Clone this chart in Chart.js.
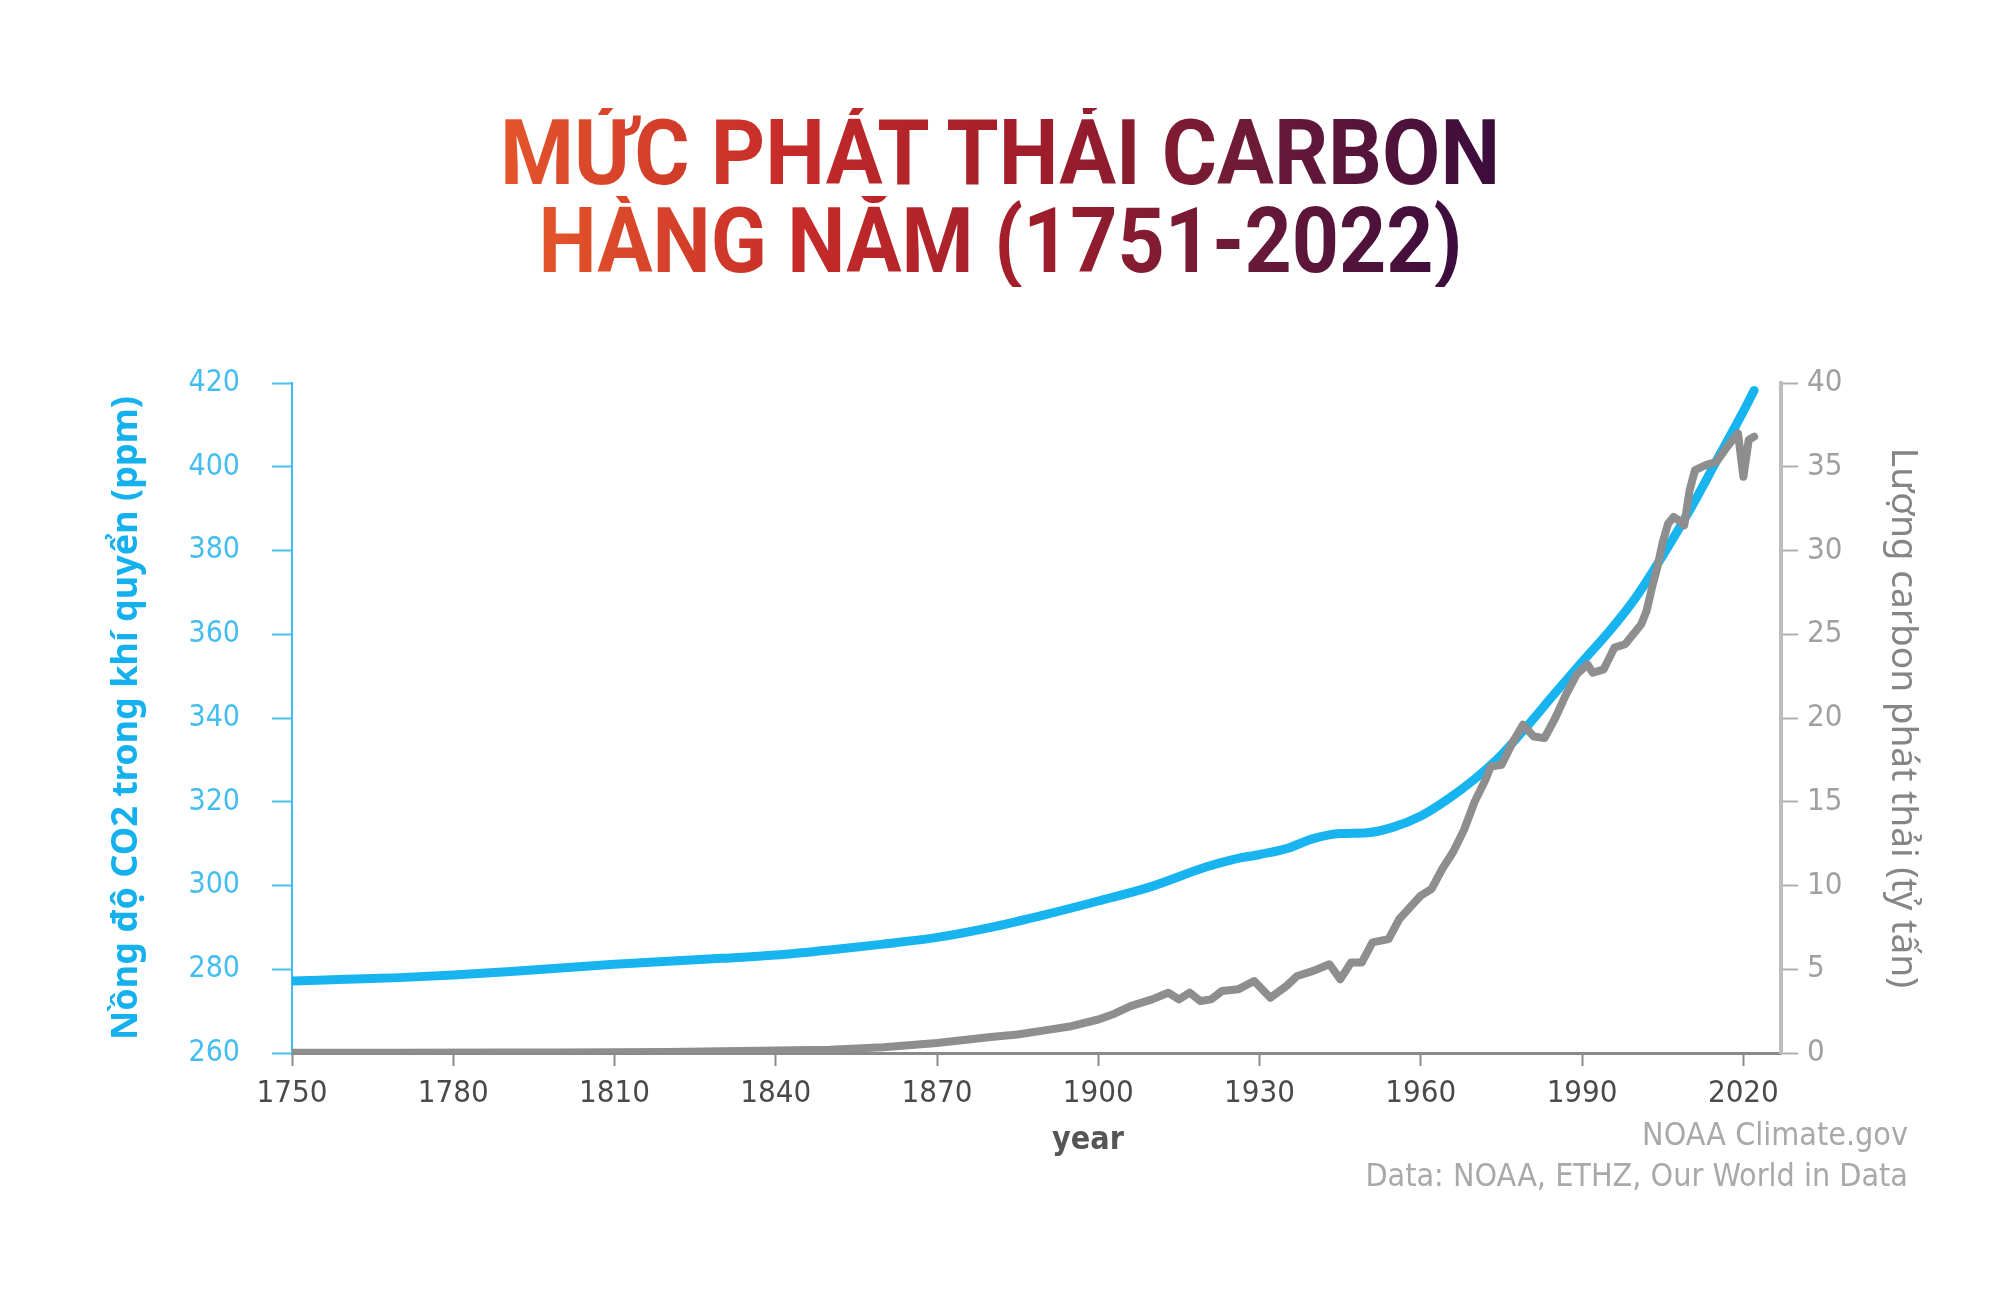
<!DOCTYPE html>
<html lang="vi">
<head>
<meta charset="utf-8">
<title>Mức phát thải carbon hàng năm (1751-2022)</title>
<script src="https://cdn.jsdelivr.net/npm/chart.js@4.4.1/dist/chart.umd.min.js"></script>
<style>
  html, body { margin: 0; padding: 0; background: #fff; }
  body { width: 2000px; height: 1316px; position: relative; overflow: hidden; }
  #chart { position: absolute; left: 0; top: 0; }
  .title-row { position: absolute; left: 0; width: 2000px; text-align: center; }
  .title-row span {
    display: inline-block;
    font-family: Roboto, 'Noto Sans', sans-serif;
    font-weight: 700;
    font-size: 91px;
    line-height: 1;
    white-space: nowrap;
    color: transparent;
    background: linear-gradient(90deg, #e4552b 0%, #c42a29 30%, #9c1d2b 55%, #6b1a38 76%, #3a0c3d 100%);
    -webkit-background-clip: text;
    background-clip: text;
    transform-origin: center;
  }
  .credit {
    position: absolute; right: 92px;
    font-family: 'DejaVu Sans Condensed', 'DejaVu Sans', sans-serif;
    font-size: 32px; line-height: 36px; color: #a9a9a9; white-space: nowrap;
  }
  #xlabel {
    position: absolute; left: 988px; width: 200px; top: 1118px; text-align: center;
    font-family: 'DejaVu Sans Condensed', sans-serif; font-weight: bold;
    font-size: 32px; line-height: 40px; color: #555;
  }
</style>
</head>
<body>
<div class="title-row" style="top:108px"><span id="t1">MỨC PHÁT THẢI CARBON</span></div>
<div class="title-row" style="top:196px"><span id="t2">HÀNG NĂM (1751-2022)</span></div>
<canvas id="chart" width="2000" height="1316"></canvas>
<div id="xlabel">year</div>
<div class="credit" style="top:1116px">NOAA Climate.gov</div>
<div class="credit" style="top:1157px">Data: NOAA, ETHZ, Our World in Data</div>
<script>
// nồng độ CO2 (ppm)
const co2Years = [1750, 1760, 1770, 1780, 1790, 1800, 1810, 1820, 1830, 1840, 1850, 1860, 1870, 1880, 1890,
  1900, 1910, 1920, 1925, 1930, 1935, 1940, 1945, 1950, 1955, 1960, 1965, 1970, 1975, 1980, 1985, 1990,
  1995, 2000, 2005, 2010, 2015, 2020, 2022];
const co2Ppm = [277.2, 277.6, 278.0, 278.6, 279.4, 280.3, 281.2, 281.9, 282.6, 283.4, 284.6, 286.0, 287.6, 290.0, 293.0,
  296.3, 299.8, 304.4, 306.2, 307.4, 308.8, 311.2, 312.4, 312.6, 314.0, 316.6, 320.6, 325.4, 331.2, 338.4, 346.0, 353.4,
  360.6, 368.8, 378.8, 389.6, 401.4, 413.2, 418.2];

// lượng phát thải (tỷ tấn)
const emisYears = [1750, 1770, 1790, 1800, 1810, 1820, 1830, 1840, 1850, 1860, 1870, 1880, 1885, 1890, 1895,
  1900, 1903, 1906, 1910, 1913, 1915, 1917, 1919, 1921, 1923, 1926, 1929, 1932, 1935, 1937, 1940, 1943, 1945,
  1947, 1949, 1951, 1954, 1956, 1958, 1960, 1962, 1964, 1966, 1968, 1970, 1972, 1973, 1975, 1977, 1979, 1981,
  1983, 1985, 1987, 1989, 1991, 1992, 1994, 1996, 1998, 2000, 2001, 2002, 2003, 2004, 2005, 2006, 2007, 2008,
  2009, 2010, 2011, 2013, 2015, 2017, 2019, 2020, 2021, 2022];
const emisGt = [0.01, 0.02, 0.03, 0.03, 0.05, 0.06, 0.1, 0.15, 0.2, 0.35, 0.6, 0.95, 1.1, 1.35, 1.6,
  2.0, 2.35, 2.8, 3.2, 3.6, 3.2, 3.6, 3.1, 3.2, 3.7, 3.8, 4.3, 3.3, 4.0, 4.6, 4.9, 5.3, 4.4,
  5.4, 5.4, 6.6, 6.8, 8.0, 8.7, 9.4, 9.8, 11.0, 12.0, 13.3, 15.0, 16.3, 17.1, 17.2, 18.5, 19.6, 18.9,
  18.8, 20.0, 21.4, 22.6, 23.2, 22.7, 22.9, 24.2, 24.4, 25.2, 25.6, 26.4, 27.8, 29.0, 30.5, 31.6, 32.0, 31.8,
  31.5, 33.6, 34.8, 35.1, 35.3, 36.2, 37.0, 34.4, 36.6, 36.8];

const xTicks = [1750, 1780, 1810, 1840, 1870, 1900, 1930, 1960, 1990, 2020];
const co2Ticks = [260, 280, 300, 320, 340, 360, 380, 400, 420];
const emisTicks = [0, 5, 10, 15, 20, 25, 30, 35, 40];

const narrow = "'Liberation Sans Narrow', 'DejaVu Sans Condensed', sans-serif";

// co chữ tiêu đề cho vừa bề ngang
function fitTitle(id, target) {
    const el = document.getElementById(id);
    const w = el.getBoundingClientRect().width;
    el.style.transform = 'scaleX(' + (target / w) + ')';
}
fitTitle('t1', 1000);
fitTitle('t2', 924);

const toPoints = (xs, ys) => xs.map((x, i) => ({ x, y: ys[i] }));
const setTicks = list => scale => { scale.ticks = list.map(v => ({ value: v })); };

new Chart(document.getElementById('chart'), {
    type: 'line',
    data: {
        datasets: [{
            label: 'Lượng carbon phát thải',
            data: toPoints(emisYears, emisGt),
            yAxisID: 'y1',
            borderColor: '#8e8e8e',
            borderWidth: 8,
            borderJoinStyle: 'round',
            borderCapStyle: 'round',
            tension: 0,
            order: 0
        }, {
            label: 'Nồng độ CO2',
            data: toPoints(co2Years, co2Ppm),
            yAxisID: 'y',
            borderColor: '#17b4f0',
            borderWidth: 9,
            borderCapStyle: 'round',
            cubicInterpolationMode: 'monotone',
            order: 1
        }]
    },
    options: {
        responsive: false,
        animation: false,
        layout: { padding: { top: 383, left: 0, right: 0, bottom: 143 } },
        elements: { point: { radius: 0 } },
        plugins: { legend: { display: false }, tooltip: { enabled: false } },
        scales: {
            x: {
                type: 'linear',
                min: 1750,
                max: 2027,
                afterBuildTicks: setTicks(xTicks),
                afterFit: s => { s.height = 120; },
                grid: { drawOnChartArea: false, tickLength: 13, tickWidth: 2, tickColor: '#8a8a8a' },
                border: { color: '#8a8a8a', width: 3 },
                ticks: {
                    color: '#4a4a4a', padding: 9, maxRotation: 0, autoSkip: false,
                    font: { family: narrow, size: 31 },
                    callback: v => String(v)
                }
            },
            y: {
                position: 'left',
                min: 260,
                max: 420,
                afterBuildTicks: setTicks(co2Ticks),
                afterFit: s => { s.width = 292; },
                grid: { drawOnChartArea: false, tickLength: 20, tickWidth: 2, tickColor: '#4cc0f0' },
                border: { color: '#3cbcf0', width: 2 },
                ticks: { color: '#45bdf0', padding: 32, font: { family: narrow, size: 30 } },
                title: {
                    display: true, text: 'Nồng độ CO2 trong khí quyển (ppm)', color: '#14b1ee',
                    font: { family: "'Noto Sans', sans-serif", weight: 'bold', size: 36 },
                    padding: { top: 105, bottom: 0 }
                }
            },
            y1: {
                position: 'right',
                min: 0,
                max: 40,
                afterBuildTicks: setTicks(emisTicks),
                afterFit: s => { s.width = 219; },
                grid: { drawOnChartArea: false, tickLength: 17, tickWidth: 2, tickColor: '#b0b0b0' },
                border: { color: '#bdbdbd', width: 4 },
                ticks: { color: '#a0a0a0', padding: 9, font: { family: narrow, size: 31 } },
                title: {
                    display: true, text: 'Lượng carbon phát thải (tỷ tấn)', color: '#858585',
                    font: { family: "'Noto Sans', sans-serif", size: 37 },
                    padding: { top: 75, bottom: 0 }
                }
            }
        }
    }
});
</script>
</body>
</html>
